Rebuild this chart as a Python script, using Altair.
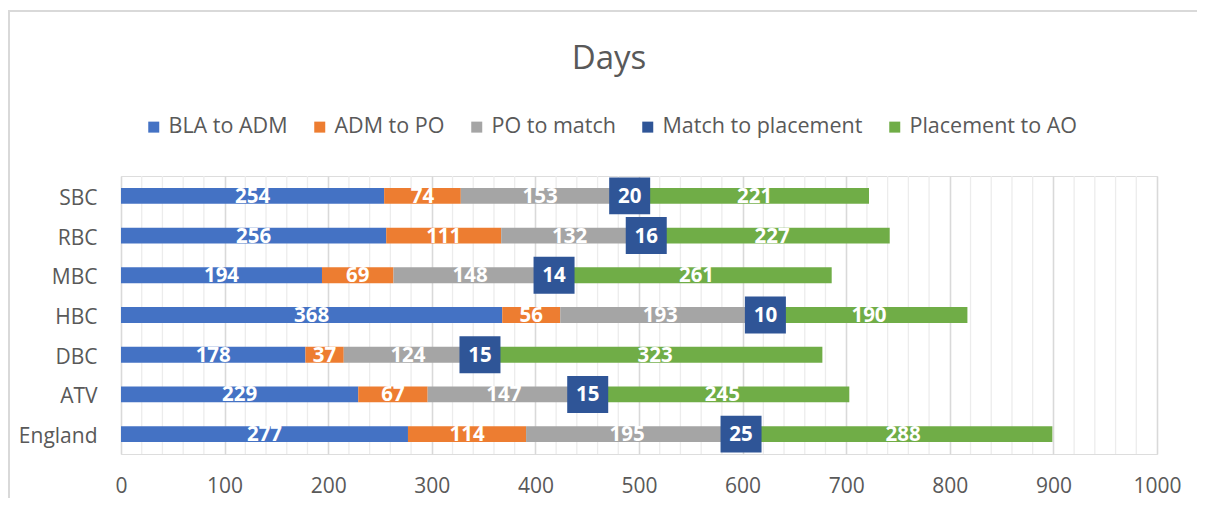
import altair as alt
import pandas as pd

categories = ["SBC", "RBC", "MBC", "HBC", "DBC", "ATV", "England"]
series = ["BLA to ADM", "ADM to PO", "PO to match", "Match to placement", "Placement to AO"]
colors = ["#4472C4", "#ED7D31", "#A5A5A5", "#2F5597", "#70AD47"]
bla = [254, 256, 194, 368, 178, 229, 277]
adm = [74, 111, 69, 56, 37, 67, 114]
po = [153, 132, 148, 193, 124, 147, 195]
match = [20, 16, 14, 10, 15, 15, 25]
place = [221, 227, 261, 190, 323, 245, 288]
tick_values = [0, 100, 200, 300, 400, 500, 600, 700, 800, 900, 1000]
title_text = "Days"

rows = []
for i, c in enumerate(categories):
    start = 0
    for k, (s, vals) in enumerate(zip(series, [bla, adm, po, match, place])):
        v = vals[i]
        rows.append(dict(cat=c, series=s, value=v, start=start, end=start + v,
                         mid=start + v / 2, order=k))
        start += v
df = pd.DataFrame(rows)

minor = pd.DataFrame({"g": [v for v in range(20, 1000, 20) if v % 100]})
one = pd.DataFrame({"t": [title_text]})

FONT = "Open Sans"
GREY = "#595959"

xscale = alt.Scale(domain=[0, 1000], nice=False, zero=True)
yenc = alt.Y("cat:N", sort=categories, title=None,
             scale=alt.Scale(paddingInner=0.6, paddingOuter=0.3),
             axis=alt.Axis(domain=False, ticks=False, labelFont=FONT, labelFontSize=21,
                           labelColor=GREY, labelPadding=24, labelOffset=3))

minor_layer = alt.Chart(minor).mark_rule(color="#ECECEC", strokeWidth=1.3).encode(
    x=alt.X("g:Q", scale=xscale)
)

bars = alt.Chart(df).mark_bar().encode(
    x=alt.X("start:Q", scale=xscale, title=None,
            axis=alt.Axis(values=tick_values, format="d", domain=False, ticks=False,
                          labelFlush=False, labelOverlap=False,
                          labelFont=FONT, labelFontSize=21, labelColor=GREY,
                          labelPadding=21, gridColor="#D9D9D9", gridWidth=1.6)),
    x2="end:Q",
    y=yenc,
    color=alt.Color("series:N", scale=alt.Scale(domain=series, range=colors),
                    legend=alt.Legend(title=None, orient="none", legendX=22, legendY=-60,
                                      direction="horizontal", symbolType="square",
                                      symbolSize=121, symbolStrokeWidth=0,
                                      labelFont=FONT, labelFontSize=21.5, labelColor=GREY,
                                      labelLimit=0, columnPadding=21, labelOffset=4)),
    order="order:Q",
)

boxes = alt.Chart(df).transform_filter(
    alt.datum.series == "Match to placement"
).mark_point(shape="M-1,-0.9L1,-0.9L1,0.9L-1,0.9Z", size=1681, filled=True,
             color="#2F5597", opacity=1, strokeWidth=0).encode(
    x=alt.X("mid:Q", scale=xscale),
    y=alt.Y("cat:N", sort=categories),
)

labels = alt.Chart(df).mark_text(color="white", fontWeight="bold", fontSize=20.5, font=FONT,
                                 baseline="middle", dy=1).encode(
    x=alt.X("mid:Q", scale=xscale),
    y=alt.Y("cat:N", sort=categories),
    text="value:Q",
)

title_mark = alt.Chart(one).mark_text(font=FONT, fontSize=33, color=GREY, align="center",
                                      baseline="alphabetic").encode(
    x=alt.value(488), y=alt.value(-107), text="t:N"
)

border_left = alt.Chart(one).mark_rule(color="#D9D9D9", strokeWidth=2).encode(
    x=alt.value(-112), y=alt.value(-165), y2=alt.value(340)
)
border_top = alt.Chart(one).mark_rule(color="#D9D9D9", strokeWidth=2).encode(
    x=alt.value(-113), x2=alt.value(1100), y=alt.value(-165)
)

chart = alt.layer(minor_layer, bars, boxes, labels, title_mark, border_left, border_top).properties(
    width=1036, height=278,
    autosize=alt.AutoSizeParams(type="none"),
    padding={"left": 113, "top": 168, "right": 40, "bottom": 44},
).configure_view(stroke=None).configure(background="white")

chart.save("out.html", embed_options={"renderer": "svg", "actions": False})
